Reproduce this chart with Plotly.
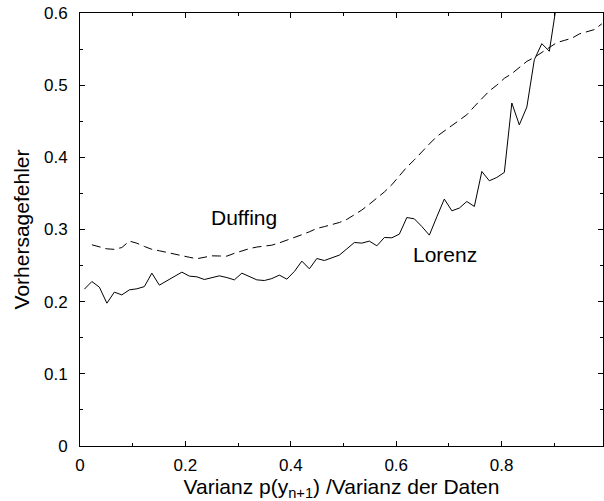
import numpy as np
import plotly.graph_objects as go

# common x grid of the sampled curves
x_grid = list(np.round(0.0083 + 0.01423 * np.arange(70), 4))

lorenz = [0.2173, 0.2279, 0.2201, 0.1979, 0.2132, 0.2094, 0.2164, 0.2178, 0.2209, 0.2395,
          0.2229, 0.2288, 0.2348, 0.2409, 0.2354, 0.2344, 0.2307, 0.2334, 0.2358, 0.2334,
          0.2302, 0.2395, 0.2344, 0.2302, 0.2293, 0.2320, 0.2368, 0.2312, 0.2418, 0.2562,
          0.2455, 0.2598, 0.2570, 0.2603, 0.2645, 0.2732, 0.2820, 0.2811, 0.2839, 0.2774,
          0.2889, 0.2885, 0.2936, 0.3166, 0.3148, 0.3042, 0.2922, 0.3176, 0.3422, 0.3259,
          0.3297, 0.3388, 0.3319, 0.3804, 0.3675, 0.3721, 0.3791, 0.4753, 0.4450, 0.4697,
          0.5353, 0.5575, 0.5470, 0.6150]

duffing = [0.2788, 0.2756, 0.2732, 0.2725, 0.2750, 0.2840, 0.2810, 0.2765, 0.2725, 0.2705,
           0.2680, 0.2655, 0.2630, 0.2615, 0.2595, 0.2612, 0.2635, 0.2633, 0.2631, 0.2670,
           0.2705, 0.2735, 0.2757, 0.2772, 0.2783, 0.2815, 0.2850, 0.2888, 0.2928, 0.2968,
           0.3015, 0.3040, 0.3065, 0.3097, 0.3140, 0.3200, 0.3270, 0.3350, 0.3430, 0.3520,
           0.3620, 0.3750, 0.3865, 0.3965, 0.4080, 0.4185, 0.4290, 0.4360, 0.4440, 0.4515,
           0.4590, 0.4705, 0.4810, 0.4920, 0.5000, 0.5095, 0.5160, 0.5245, 0.5330, 0.5385,
           0.5455, 0.5520, 0.5590, 0.5620, 0.5650, 0.5710, 0.5745, 0.5770, 0.5850]

x_lorenz = x_grid[:len(lorenz)]
x_duffing = x_grid[1:1 + len(duffing)]

x_title = "Varianz p(y<sub>n+1</sub>) /Varianz der Daten"
y_title = "Vorhersagefehler"
x_ticks = [0, 0.2, 0.4, 0.6, 0.8]
x_tick_labels = ["0", "0.2", "0.4", "0.6", "0.8"]
y_ticks = [0, 0.1, 0.2, 0.3, 0.4, 0.5, 0.6]
y_tick_labels = ["0", "0.1", "0.2", "0.3", "0.4", "0.5", "0.6"]

font = "Liberation Sans, Arial, sans-serif"

fig = go.Figure()
fig.add_trace(go.Scatter(x=x_duffing, y=duffing, mode="lines",
                         line=dict(color="black", width=1, dash="9px,5px"),
                         showlegend=False, hoverinfo="skip"))
fig.add_trace(go.Scatter(x=x_lorenz, y=lorenz, mode="lines",
                         line=dict(color="black", width=1),
                         showlegend=False, hoverinfo="skip"))

fig.add_annotation(x=0.312, y=0.317, text="Duffing", showarrow=False,
                   font=dict(family=font, size=21, color="black"))
fig.add_annotation(x=0.693, y=0.265, text="Lorenz", showarrow=False,
                   font=dict(family=font, size=21, color="black"))

axis_common = dict(showline=True, linecolor="black", linewidth=1, mirror="allticks",
                   ticks="inside", tickcolor="black", tickwidth=1, ticklen=5,
                   showgrid=False, zeroline=False, automargin=False,
                   tickfont=dict(family=font, size=17, color="black"))

fig.update_xaxes(range=[0, 0.9924], tickvals=x_ticks, ticktext=x_tick_labels,
                 minor=dict(dtick=0.1, tick0=0, ticks="inside", ticklen=3, tickcolor="black", showgrid=False),
                 title=dict(text=x_title, font=dict(family=font, size=21, color="black"), standoff=2),
                 ticklabelstandoff=4, **axis_common)
fig.update_yaxes(range=[0, 0.6], tickvals=y_ticks, ticktext=y_tick_labels,
                 minor=dict(dtick=0.05, tick0=0, ticks="inside", ticklen=3, tickcolor="black", showgrid=False),
                 title=dict(text=y_title, font=dict(family=font, size=21, color="black"), standoff=8),
                 ticklabelstandoff=8, **axis_common)

fig.update_layout(width=604, height=501, margin=dict(l=80, r=1, t=13, b=55),
                  paper_bgcolor="white", plot_bgcolor="white",
                  font=dict(family=font, color="black"))

fig.write_html("out.html")
